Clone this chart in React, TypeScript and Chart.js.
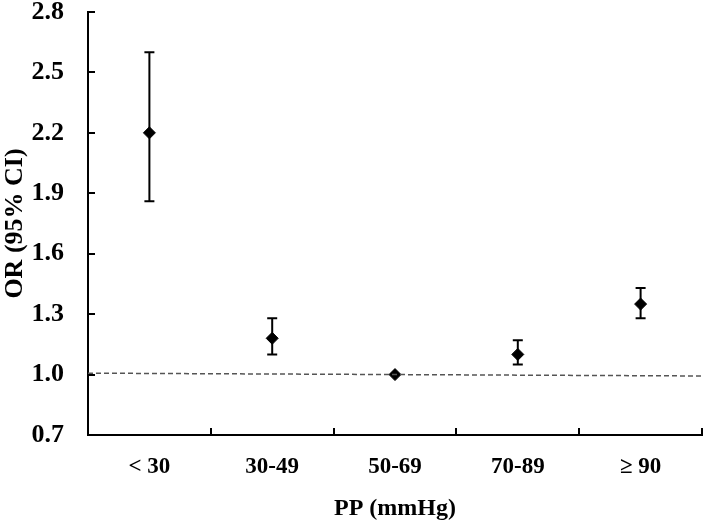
import React, { useEffect, useRef } from 'react';
import { Chart, registerables } from 'chart.js';

Chart.register(...registerables);

const categories = ['< 30', '30-49', '50-69', '70-89', '≥ 90'];
const orValues = [2.2, 1.18, 1.0, 1.1, 1.35];
const ciLower = [1.86, 1.1, 1.0, 1.05, 1.28];
const ciUpper = [2.6, 1.28, 1.0, 1.17, 1.43];
const yTicks = [0.7, 1.0, 1.3, 1.6, 1.9, 2.2, 2.5, 2.8];
const refLineY = [1.007, 0.993];
const refLineX = [0, 5];

const FONT = "'Liberation Serif', 'Times New Roman', serif";

const errorBarPlugin = {
  id: 'errorBars',
  afterDatasetsDraw(chart: any) {
    const ctx = chart.ctx;
    const xs = chart.scales.x;
    const ys = chart.scales.y;
    ctx.save();
    ctx.strokeStyle = '#000';
    ctx.lineWidth = 2;
    for (let i = 0; i < categories.length; i++) {
      if (ciUpper[i] === ciLower[i]) continue;
      const px = xs.getPixelForValue(i);
      const top = ys.getPixelForValue(ciUpper[i]);
      const bot = ys.getPixelForValue(ciLower[i]);
      ctx.beginPath();
      ctx.moveTo(px, top);
      ctx.lineTo(px, bot);
      ctx.moveTo(px - 5, top);
      ctx.lineTo(px + 5, top);
      ctx.moveTo(px - 5, bot);
      ctx.lineTo(px + 5, bot);
      ctx.stroke();
    }
    ctx.restore();
  },
  afterDraw(chart: any) {
    const ctx = chart.ctx;
    const xs = chart.scales.x;
    const ys = chart.scales.y;
    const area = chart.chartArea;
    ctx.save();
    ctx.strokeStyle = '#000';
    ctx.lineWidth = 2;
    ctx.beginPath();
    for (const v of yTicks) {
      const py = Math.round(ys.getPixelForValue(v));
      ctx.moveTo(area.left, py);
      ctx.lineTo(area.left + 7, py);
    }
    for (let i = 0; i < categories.length; i++) {
      const px = Math.round(xs.getPixelForValue(i + 0.5));
      ctx.moveTo(px, area.bottom);
      ctx.lineTo(px, area.bottom - 7);
    }
    ctx.stroke();
    ctx.restore();
  },
};

export default function App() {
  const ref = useRef<HTMLCanvasElement | null>(null);
  useEffect(() => {
    if (!ref.current) return;
    const chart = new Chart(ref.current, {
      type: 'line',
      data: {
        labels: categories,
        datasets: [
          {
            label: 'ref',
            data: refLineX.map((x, i) => ({ x, y: refLineY[i] })),
            xAxisID: 'x2',
            borderColor: '#555',
            borderWidth: 1.5,
            borderDash: [5, 3],
            pointRadius: 0,
            fill: false,
          } as any,
          {
            label: 'OR',
            data: orValues,
            xAxisID: 'x',
            showLine: false,
            pointStyle: 'rectRot',
            pointRadius: 6,
            pointBackgroundColor: '#000',
            pointBorderColor: '#000',
            borderColor: '#000',
          },
        ],
      },
      options: {
        responsive: false,
        animation: false,
        events: [],
        layout: { padding: { top: 12, right: 4, left: 0, bottom: 0 } },
        plugins: { legend: { display: false }, tooltip: { enabled: false } },
        scales: {
          x: {
            type: 'category',
            offset: true,
            grid: { display: false, drawTicks: false },
            border: { display: true, color: '#000', width: 2 },
            ticks: {
              color: '#000',
              padding: 18,
              font: { family: FONT, size: 23, weight: 'bold' },
              maxRotation: 0,
            },
            title: {
              display: true,
              text: 'PP (mmHg)',
              color: '#000',
              font: { family: FONT, size: 24, weight: 'bold', lineHeight: 1.2 },
              padding: { top: 0, bottom: 6 },
            },
            afterFit: (s: any) => {
              s.height = 94;
              s.paddingLeft = 0;
              s.paddingRight = 0;
            },
          },
          x2: {
            type: 'linear',
            display: false,
            min: 0,
            max: 5,
          },
          y: {
            type: 'linear',
            min: 0.7,
            max: 2.8,
            grid: { display: false, drawTicks: false },
            border: { display: true, color: '#000', width: 2 },
            afterBuildTicks: (s: any) => {
              s.ticks = yTicks.map((v) => ({ value: v }));
            },
            ticks: {
              color: '#000',
              padding: 24,
              font: { family: FONT, size: 26, weight: 'bold', lineHeight: 0.9 },
              callback: (v: any) => Number(v).toFixed(1),
            },
            title: {
              display: true,
              text: 'OR (95% CI)',
              color: '#000',
              font: { family: FONT, size: 26, weight: 'bold', lineHeight: 1.2 },
              padding: 0,
            },
            afterFit: (s: any) => {
              s.width = 88;
              s.paddingTop = 0;
              s.paddingBottom = 0;
            },
          },
        },
      },
      plugins: [errorBarPlugin],
    });
    return () => chart.destroy();
  }, []);
  return (
    <div style={{ position: 'fixed', left: 0, top: 0, width: 709, height: 529, background: '#fff' }}>
      <canvas ref={ref} width={709} height={529} />
    </div>
  );
}
